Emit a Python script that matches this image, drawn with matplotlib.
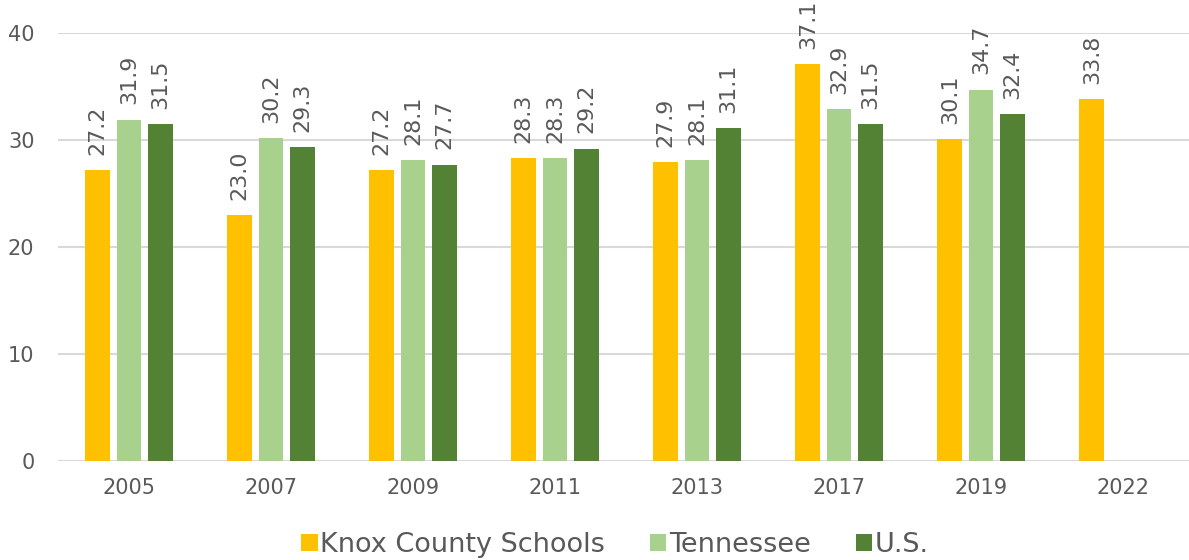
import matplotlib.pyplot as plt
import numpy as np

years = ['2005', '2007', '2009', '2011', '2013', '2017', '2019', '2022']
knox = [27.2, 23.0, 27.2, 28.3, 27.9, 37.1, 30.1, 33.8]
tennessee = [31.9, 30.2, 28.1, 28.3, 28.1, 32.9, 34.7, None]
us = [31.5, 29.3, 27.7, 29.2, 31.1, 31.5, 32.4, None]

series = [('Knox County Schools', knox, '#FFC000'),
          ('Tennessee', tennessee, '#A9D18E'),
          ('U.S.', us, '#548235')]

text_color = '#595959'
plt.rcParams['font.family'] = ['DejaVu Sans']

fig = plt.figure(figsize=(11.89, 5.6), dpi=100)
ax = fig.add_axes([58 / 1189, 1 - 461 / 560, 1136 / 1189, (461 - 33) / 560])

x = np.arange(len(years))
width = 0.173
step = 0.22

for i, (name, vals, color) in enumerate(series):
    pos = x + (i - 1) * step
    v = np.array([np.nan if a is None else a for a in vals], dtype=float)
    ax.bar(pos, np.nan_to_num(v), width, color=color, label=name, zorder=3)
    for p, val in zip(pos, v):
        if np.isnan(val):
            continue
        ax.annotate(f'{val:.1f}', (p, val), xytext=(0, 11), textcoords='offset points',
                    rotation=90, ha='center', va='bottom', fontsize=16,
                    color=text_color)

ax.set_xlim(-0.5, len(years) - 0.5)
ax.set_ylim(0, 40)
ax.set_yticks([0, 10, 20, 30, 40])
ax.set_xticks(x)
ax.set_xticklabels(years)
ax.yaxis.grid(True, color='#D9D9D9', linewidth=1.5, zorder=0)
ax.set_axisbelow(True)
for s in ax.spines.values():
    s.set_visible(False)
ax.tick_params(length=0, colors=text_color, labelsize=15)
ax.tick_params(axis='x', pad=12)
ax.tick_params(axis='y', pad=17)

fig.legend(*ax.get_legend_handles_labels(), loc='center',
           bbox_to_anchor=(615 / 1189, 1 - 545 / 560), ncol=3, frameon=False,
           fontsize=19.5, labelcolor=text_color, handlelength=0.6, handleheight=0.6,
           handletextpad=0.1, columnspacing=1.65)

fig.savefig('out.png', dpi=100)
